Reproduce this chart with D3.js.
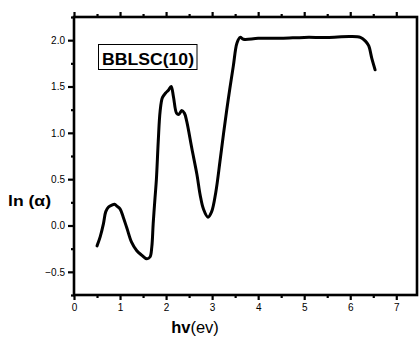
<!DOCTYPE html>
<html><head><meta charset="utf-8">
<script src="https://cdn.jsdelivr.net/npm/d3@7"></script>
<style>body{margin:0;background:#fff}svg{display:block}</style>
</head><body>
<svg id="c" width="420" height="340"></svg>
<script>
const energy = [0.50,0.57,0.64,0.69,0.75,0.82,0.88,0.93,1.00,1.07,1.15,1.25,1.36,1.47,1.58,1.65,1.69,1.72,1.76,1.79,1.83,1.87,1.92,1.99,2.05,2.11,2.16,2.23,2.28,2.34,2.40,2.45,2.56,2.67,2.74,2.81,2.91,2.99,3.08,3.17,3.25,3.35,3.46,3.54,3.61,3.68,4.00,4.50,5.00,5.50,6.00,6.22,6.33,6.40,6.47,6.54];
const lnAlpha = [-0.22,-0.12,0.02,0.15,0.20,0.22,0.23,0.21,0.18,0.09,-0.03,-0.18,-0.27,-0.32,-0.36,-0.34,-0.23,0.02,0.30,0.50,0.91,1.23,1.38,1.43,1.46,1.50,1.39,1.21,1.20,1.24,1.21,1.12,0.83,0.55,0.33,0.18,0.09,0.15,0.36,0.69,1.00,1.36,1.72,1.97,2.03,2.01,2.02,2.02,2.03,2.03,2.04,2.03,1.99,1.94,1.80,1.68];
const xTicks = [0,1,2,3,4,5,6,7];
const xMinor = [0.5,1.5,2.5,3.5,4.5,5.5,6.5];
const yTicks = [-0.5,0.0,0.5,1.0,1.5,2.0];
const yMinor = [-0.75,-0.25,0.25,0.75,1.25,1.75,2.25];
const legendLabel = "BBLSC(10)";

const svg = d3.select("#c");
const L=74,R=417,T=17,B=295;
const x = d3.scaleLinear().domain([0,7.45]).range([L,R]);
const y = d3.scaleLinear().domain([-0.75,2.25]).range([B,T]);
const font = "Arial, 'Liberation Sans', sans-serif";

function styleAxis(g){
  g.select(".domain").remove();
  g.selectAll(".tick line").attr("stroke","#000").attr("stroke-width",2.2);
  g.selectAll(".tick text").attr("font-family",font).attr("font-size",10).attr("fill","#000");
}
// bottom
svg.append("g").attr("transform",`translate(0,${B})`)
  .call(d3.axisBottom(x).tickValues(xTicks).tickSize(5).tickPadding(4).tickFormat(d3.format("d"))).call(styleAxis);
svg.append("g").attr("transform",`translate(0,${B})`)
  .call(d3.axisBottom(x).tickValues(xMinor).tickSize(3).tickFormat("")).call(styleAxis);
// top
svg.append("g").attr("transform",`translate(0,${T})`)
  .call(d3.axisTop(x).tickValues(xTicks).tickSize(5).tickFormat("")).call(styleAxis);
svg.append("g").attr("transform",`translate(0,${T})`)
  .call(d3.axisTop(x).tickValues(xMinor).tickSize(3).tickFormat("")).call(styleAxis);
// left
svg.append("g").attr("transform",`translate(${L},0)`)
  .call(d3.axisLeft(y).tickValues(yTicks).tickSize(6).tickPadding(3).tickFormat(d3.format(".1f"))).call(styleAxis);
svg.append("g").attr("transform",`translate(${L},0)`)
  .call(d3.axisLeft(y).tickValues(yMinor).tickSize(3).tickFormat("")).call(styleAxis);

// frame
svg.append("rect").attr("x",L).attr("y",T).attr("width",R-L).attr("height",B-T)
  .attr("fill","none").attr("stroke","#000").attr("stroke-width",2.6);

// curve
const pts = energy.map((e,i)=>[e,lnAlpha[i]]);
svg.append("path").datum(pts)
  .attr("d", d3.line().x(d=>x(d[0])).y(d=>y(d[1])).curve(d3.curveCatmullRom.alpha(0.5)))
  .attr("fill","none").attr("stroke","#000").attr("stroke-width",3).attr("stroke-linejoin","round").attr("stroke-linecap","round");

// legend box
svg.append("rect").attr("x",98.5).attr("y",44.5).attr("width",98.5).attr("height",25)
  .attr("fill","#fff").attr("stroke","#000").attr("stroke-width",1);
svg.append("text").attr("x",102).attr("y",64.5).attr("font-family",font).attr("font-weight","bold")
  .attr("font-size",16).attr("textLength",92).attr("lengthAdjust","spacingAndGlyphs").text(legendLabel);

// axis titles
svg.append("text").attr("x",8).attr("y",206).attr("font-family",font).attr("font-weight","bold")
  .attr("font-size",15.5).attr("textLength",43).attr("lengthAdjust","spacingAndGlyphs").text("ln (α)");
const xt = svg.append("text").attr("x",195).attr("y",333).attr("text-anchor","middle")
  .attr("font-family",font).attr("font-size",16.5);
xt.append("tspan").attr("font-weight","bold").text("hv");
xt.append("tspan").text("(ev)");
</script>
</body></html>
